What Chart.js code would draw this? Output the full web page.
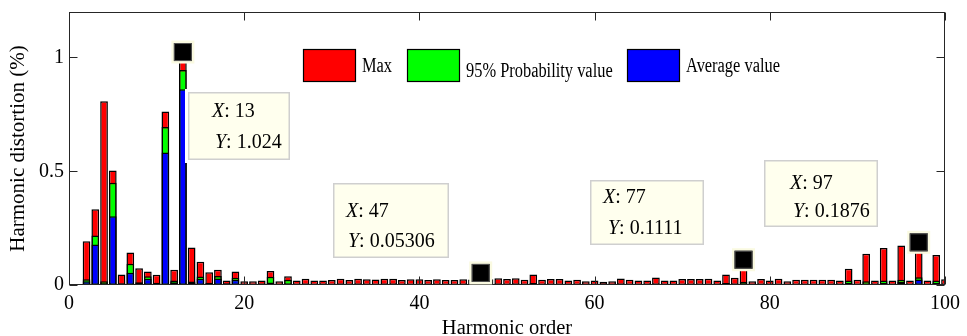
<!DOCTYPE html>
<html>
<head>
<meta charset="utf-8">
<script src="https://cdn.jsdelivr.net/npm/chart.js@4.4.1/dist/chart.umd.min.js"></script>
<style>
    html, body { margin: 0; padding: 0; background: #fff; }
</style>
</head>
<body>
<canvas id="harmonicChart" width="967" height="336"></canvas>
<script>
const harmonicOrders = [
    1, 2, 3, 4, 5, 6, 7, 8, 9, 10,
    11, 12, 13, 14, 15, 16, 17, 18, 19, 20,
    21, 22, 23, 24, 25, 26, 27, 28, 29, 30,
    31, 32, 33, 34, 35, 36, 37, 38, 39, 40,
    41, 42, 43, 44, 45, 46, 47, 48, 49, 50,
    51, 52, 53, 54, 55, 56, 57, 58, 59, 60,
    61, 62, 63, 64, 65, 66, 67, 68, 69, 70,
    71, 72, 73, 74, 75, 76, 77, 78, 79, 80,
    81, 82, 83, 84, 85, 86, 87, 88, 89, 90,
    91, 92, 93, 94, 95, 96, 97, 98, 99, 100
];

const maxValues = [
    0.004, 0.192, 0.333, 0.808, 0.503, 0.046, 0.143, 0.074, 0.059, 0.045,
    0.763, 0.067, 1.024, 0.165, 0.102, 0.056, 0.067, 0.020, 0.059, 0.017,
    0.017, 0.020, 0.061, 0.017, 0.039, 0.020, 0.027, 0.020, 0.020, 0.022,
    0.027, 0.022, 0.027, 0.025, 0.024, 0.027, 0.028, 0.022, 0.025, 0.025,
    0.022, 0.025, 0.022, 0.022, 0.025, 0.024, 0.05306, 0.025, 0.030, 0.026,
    0.030, 0.023, 0.046, 0.023, 0.026, 0.026, 0.020, 0.023, 0.017, 0.020,
    0.014, 0.017, 0.029, 0.023, 0.020, 0.020, 0.033, 0.020, 0.020, 0.026,
    0.026, 0.026, 0.027, 0.020, 0.046, 0.032, 0.1111, 0.017, 0.026, 0.020,
    0.027, 0.017, 0.023, 0.023, 0.023, 0.023, 0.023, 0.020, 0.071, 0.023,
    0.137, 0.020, 0.163, 0.020, 0.174, 0.020, 0.1876, 0.020, 0.132, 0.025
];

const p95Values = [
    0.003, 0.025, 0.218, 0.017, 0.450, 0.008, 0.093, 0.012, 0.039, 0.010,
    0.695, 0.020, 0.945, 0.015, 0.037, 0.010, 0.040, 0.008, 0.032, 0.006,
    0.006, 0.007, 0.036, 0.006, 0.023, 0.006, 0.007, 0.006, 0.006, 0.006,
    0.007, 0.006, 0.007, 0.006, 0.006, 0.007, 0.007, 0.006, 0.006, 0.006,
    0.006, 0.006, 0.006, 0.006, 0.006, 0.006, 0.010, 0.006, 0.007, 0.006,
    0.007, 0.006, 0.009, 0.006, 0.006, 0.006, 0.005, 0.006, 0.005, 0.005,
    0.005, 0.005, 0.007, 0.006, 0.005, 0.005, 0.007, 0.005, 0.005, 0.006,
    0.006, 0.006, 0.006, 0.005, 0.009, 0.007, 0.014, 0.005, 0.006, 0.005,
    0.006, 0.005, 0.006, 0.006, 0.006, 0.006, 0.006, 0.005, 0.020, 0.006,
    0.017, 0.006, 0.020, 0.006, 0.023, 0.006, 0.034, 0.006, 0.020, 0.006
];

const avgValues = [
    0.002, 0.016, 0.178, 0.008, 0.302, 0.004, 0.054, 0.006, 0.027, 0.005,
    0.582, 0.012, 0.860, 0.010, 0.027, 0.005, 0.029, 0.004, 0.023, 0.003,
    0.003, 0.003, 0.011, 0.003, 0.007, 0.003, 0.003, 0.003, 0.003, 0.003,
    0.003, 0.003, 0.003, 0.003, 0.003, 0.003, 0.003, 0.003, 0.003, 0.003,
    0.003, 0.003, 0.003, 0.003, 0.003, 0.003, 0.003, 0.003, 0.003, 0.003,
    0.003, 0.003, 0.003, 0.003, 0.003, 0.003, 0.003, 0.003, 0.003, 0.003,
    0.003, 0.003, 0.003, 0.003, 0.003, 0.003, 0.003, 0.003, 0.003, 0.003,
    0.003, 0.003, 0.003, 0.003, 0.004, 0.003, 0.006, 0.003, 0.003, 0.003,
    0.003, 0.003, 0.003, 0.003, 0.003, 0.003, 0.003, 0.003, 0.010, 0.003,
    0.006, 0.003, 0.010, 0.003, 0.013, 0.003, 0.024, 0.003, 0.010, 0.003
];

const seriesNames = ["Max", "95% Probability value", "Average value"];

const xTickValues = [0, 20, 40, 60, 80, 100];
const xTickLabels = ["0", "20", "40", "60", "80", "100"];
const yTickValues = [0, 0.5, 1];
const yTickLabels = ["0", "0.5", "1"];

// data tips shown on the figure
const tipX = [13, 47, 77, 97];
const tipY = [1.024, 0.05306, 0.1111, 0.1876];

const FONT = "'Liberation Serif', 'Times New Roman', serif";

// box offsets from the marked point, text offsets inside the box
const tipLayout = [
    { dx: 5, dy: 40, w: 102, h: 68, x1: 24, x2: 27, b1: 25, b2: 56 },
    { dx: -148, dy: -90, w: 116, h: 75, x1: 13, x2: 15, b1: 34, b2: 64 },
    { dx: -154, dy: -80, w: 114, h: 65, x1: 13, x2: 18, b1: 23, b2: 54 },
    { dx: -155, dy: -82, w: 114, h: 67, x1: 26, x2: 29, b1: 29, b2: 57 },
];

const axesBox = {
    id: "axesBox",
    afterDraw(chart) {
        const { ctx, chartArea: a, scales } = chart;
        const left = Math.round(a.left) + 0.5;
        const right = Math.round(a.right) - 0.5;
        const top = Math.round(a.top) + 0.5;
        const bottom = Math.round(a.bottom) - 0.5;
        ctx.save();
        ctx.strokeStyle = "#262626";
        ctx.lineWidth = 1;
        ctx.strokeRect(left, top, right - left, bottom - top);
        ctx.beginPath();
        xTickValues.forEach((v) => {
            const px = Math.round(scales.x.getPixelForValue(v)) + 0.5;
            ctx.moveTo(px, bottom);
            ctx.lineTo(px, bottom - 8);
            ctx.moveTo(px, top);
            ctx.lineTo(px, top + 8);
        });
        yTickValues.forEach((v) => {
            const py = Math.round(scales.y.getPixelForValue(v)) + 0.5;
            ctx.moveTo(left, py);
            ctx.lineTo(left + 8, py);
            ctx.moveTo(right, py);
            ctx.lineTo(right - 8, py);
        });
        ctx.stroke();
        ctx.restore();
    },
};

const boxLegend = {
    id: "boxLegend",
    afterDraw(chart) {
        const { ctx } = chart;
        const boxLeft = [303, 407, 627];
        const baseline = [72, 77, 72];
        ctx.save();
        chart.data.datasets.forEach((ds, i) => {
            ctx.fillStyle = ds.backgroundColor;
            ctx.fillRect(boxLeft[i], 49, 52, 33);
            ctx.strokeStyle = "#000";
            ctx.lineWidth = 1.2;
            ctx.strokeRect(boxLeft[i] + 0.5, 49.5, 52, 32);
            ctx.save();
            ctx.translate(boxLeft[i] + 59, baseline[i]);
            ctx.scale(0.82, 1);
            ctx.fillStyle = "#000";
            ctx.font = "20px " + FONT;
            ctx.textBaseline = "alphabetic";
            ctx.fillText(ds.label, 0, 0);
            ctx.restore();
        });
        ctx.restore();
    },
};

function drawTipLine(ctx, x, y, name, value) {
    ctx.font = "italic 20px " + FONT;
    ctx.fillText(name, x, y);
    const w = ctx.measureText(name).width;
    ctx.font = "20px " + FONT;
    ctx.fillText(": " + value, x + w, y);
}

const dataTips = {
    id: "dataTips",
    afterDraw(chart) {
        const { ctx, scales } = chart;
        ctx.save();
        tipX.forEach((xv, i) => {
            const mx = scales.x.getPixelForValue(xv);
            const my = scales.y.getPixelForValue(tipY[i]);
            const L = tipLayout[i];
            const bx = Math.round(mx + L.dx);
            const by = Math.round(my + L.dy);

            ctx.fillStyle = "#fff";
            ctx.fillRect(bx - 3, by - 3, L.w + 6, L.h + 6);
            ctx.fillStyle = "rgb(255,255,238)";
            ctx.fillRect(bx, by, L.w, L.h);
            ctx.strokeStyle = "#cfcfcf";
            ctx.lineWidth = 1.5;
            ctx.strokeRect(bx + 0.75, by + 0.75, L.w - 1.5, L.h - 1.5);

            ctx.fillStyle = "#000";
            ctx.textBaseline = "alphabetic";
            drawTipLine(ctx, bx + L.x1, by + L.b1, "X", String(xv));
            drawTipLine(ctx, bx + L.x2, by + L.b2, "Y", String(tipY[i]));

            // marker
            ctx.fillStyle = "rgb(250,250,225)";
            ctx.fillRect(mx - 11.5, my - 11.5, 23, 23);
            ctx.fillStyle = "#000";
            ctx.fillRect(mx - 9, my - 9, 18, 18);
            ctx.strokeStyle = "#555";
            ctx.lineWidth = 1;
            ctx.strokeRect(mx - 8.5, my - 8.5, 17, 17);
        });
        ctx.restore();
    },
};

const barStyle = {
    borderColor: "#000",
    borderWidth: 1.5,
    borderSkipped: false,
    grouped: false,
    barPercentage: 0.88,
    categoryPercentage: 1,
    clip: 0,
};

const ctx = document.getElementById("harmonicChart").getContext("2d");

new Chart(ctx, {
    type: "bar",
    data: {
        labels: harmonicOrders,
        datasets: [
            { ...barStyle, label: seriesNames[0], data: maxValues, backgroundColor: "#ff0000", order: 3 },
            { ...barStyle, label: seriesNames[1], data: p95Values, backgroundColor: "#00ff00", order: 2 },
            { ...barStyle, label: seriesNames[2], data: avgValues, backgroundColor: "#0000ff", order: 1 },
        ],
    },
    options: {
        responsive: false,
        animation: false,
        layout: { padding: { top: 12, right: 22, bottom: 0, left: 0 } },
        plugins: {
            legend: { display: false },
            tooltip: { enabled: false },
        },
        scales: {
            x: {
                type: "linear",
                min: 0,
                max: 100,
                offset: false,
                grid: { display: false, drawTicks: false },
                border: { display: false },
                afterBuildTicks: (scale) => {
                    scale.ticks = xTickValues.map((v) => ({ value: v }));
                },
                afterFit: (scale) => {
                    scale.height = 51;
                    scale.paddingLeft = 0;
                    scale.paddingRight = 0;
                },
                ticks: {
                    autoSkip: false,
                    maxRotation: 0,
                    padding: 7,
                    color: "#000",
                    font: { family: FONT, size: 20 },
                    callback: (value, index) => xTickLabels[index],
                },
                title: {
                    display: true,
                    text: "Harmonic order",
                    color: "#000",
                    font: { family: FONT, size: 20.5 },
                    padding: { top: 0, bottom: -5 },
                },
            },
            y: {
                min: 0,
                max: 1.2,
                grid: { display: false, drawTicks: false },
                border: { display: false },
                afterBuildTicks: (scale) => {
                    scale.ticks = yTickValues.map((v) => ({ value: v }));
                },
                afterFit: (scale) => {
                    scale.width = 69;
                    scale.paddingTop = 0;
                    scale.paddingBottom = 0;
                },
                ticks: {
                    padding: 5,
                    color: "#000",
                    font: { family: FONT, size: 20 },
                    callback: (value, index) => yTickLabels[index],
                },
                title: {
                    display: true,
                    text: "Harmonic distortion (%)",
                    color: "#000",
                    font: { family: FONT, size: 21 },
                    padding: { top: 6, bottom: 0 },
                },
            },
        },
    },
    plugins: [axesBox, boxLegend, dataTips],
});
</script>
</body>
</html>
